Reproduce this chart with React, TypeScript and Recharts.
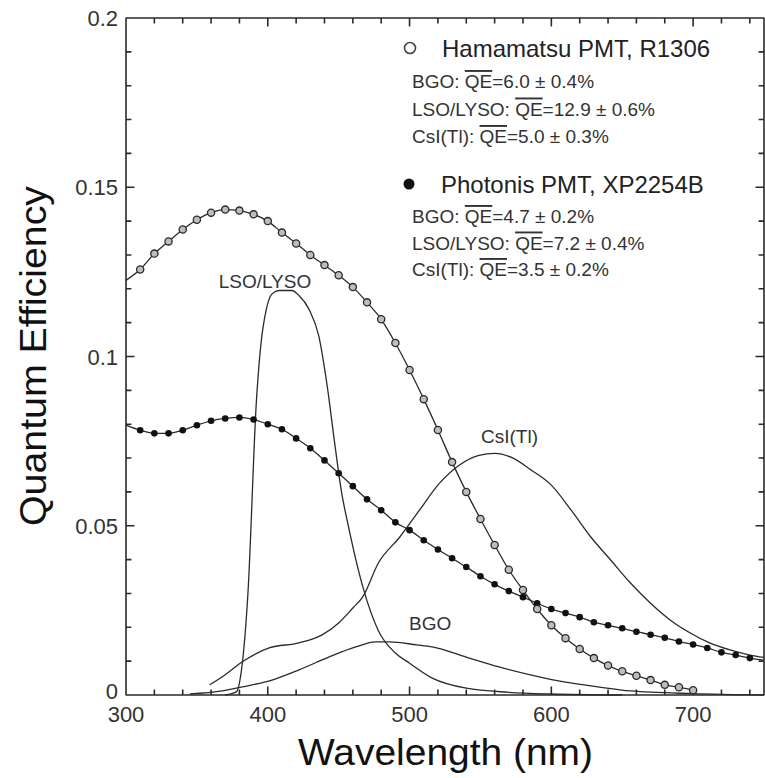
import React from 'react';
import { LineChart, Line, XAxis, YAxis, ReferenceDot } from 'recharts';

const W = 765;
const H = 778;
const INK = '#2a2a2a';
const FONT = '"Liberation Sans", Arial, Helvetica, sans-serif';

// PMT quantum efficiency curves, read every 10 nm
const hamamatsuNm = [300, 310, 320, 330, 340, 350, 360, 370, 380, 390, 400, 410, 420, 430, 440, 450, 460, 470, 480, 490, 500, 510, 520, 530, 540, 550, 560, 570, 580, 590, 600, 610, 620, 630, 640, 650, 660, 670, 680, 690, 700];
const hamamatsuQE = [0.1225, 0.1257, 0.1304, 0.134, 0.1375, 0.1404, 0.1425, 0.1434, 0.1431, 0.142, 0.14, 0.1366, 0.1334, 0.13, 0.127, 0.124, 0.1205, 0.116, 0.111, 0.104, 0.096, 0.0874, 0.0783, 0.0688, 0.06, 0.052, 0.0443, 0.037, 0.031, 0.0254, 0.0206, 0.0168, 0.0136, 0.0109, 0.0087, 0.007, 0.0057, 0.0044, 0.003, 0.0023, 0.0014];

const photonisNm = [300, 310, 320, 330, 340, 350, 360, 370, 380, 390, 400, 410, 420, 430, 440, 450, 460, 470, 480, 490, 500, 510, 520, 530, 540, 550, 560, 570, 580, 590, 600, 610, 620, 630, 640, 650, 660, 670, 680, 690, 700, 710, 720, 730, 740, 750];
const photonisQE = [0.0797, 0.0782, 0.0773, 0.0773, 0.0782, 0.0797, 0.081, 0.0817, 0.082, 0.0814, 0.08, 0.0785, 0.0758, 0.0729, 0.0693, 0.0655, 0.0617, 0.0578, 0.0546, 0.051, 0.0487, 0.0457, 0.043, 0.0404, 0.0378, 0.0351, 0.0327, 0.0307, 0.0289, 0.0271, 0.0254, 0.0242, 0.023, 0.0215, 0.0206, 0.0197, 0.0187, 0.0178, 0.0169, 0.0158, 0.0149, 0.0139, 0.0126, 0.0118, 0.0109, 0.0103];

// scintillator emission spectra (scaled to the QE axis)
const lsoNm = [370, 378, 381, 386, 392, 395, 399, 403, 408, 417, 422, 429, 436, 442, 447, 452, 457, 467, 478, 490, 500, 516, 540, 570, 600, 650];
const lsoEm = [0, 0.001, 0.006, 0.03, 0.087, 0.103, 0.114, 0.1185, 0.1195, 0.1195, 0.118, 0.114, 0.106, 0.091, 0.075, 0.06, 0.0496, 0.032, 0.019, 0.0124, 0.0094, 0.005, 0.002, 0.0008, 0.0003, 0];

const csiNm = [359, 370, 382, 401, 422, 438, 450, 460, 467, 478, 493, 507, 521, 535, 549, 560, 572, 586, 600, 614, 628, 642, 656, 670, 684, 698, 712, 726, 740, 750];
const csiEm = [0.003, 0.006, 0.0098, 0.0139, 0.0154, 0.0177, 0.0213, 0.0257, 0.029, 0.039, 0.0466, 0.0546, 0.0625, 0.0679, 0.0708, 0.0714, 0.0702, 0.0664, 0.062, 0.0546, 0.0466, 0.0398, 0.033, 0.0271, 0.0221, 0.0183, 0.0153, 0.0133, 0.0118, 0.0111];

const bgoNm = [345, 368, 382, 403, 422, 443, 462, 476, 486, 505, 516, 540, 563, 586, 610, 633, 656, 700, 750];
const bgoEm = [0.0003, 0.0012, 0.0024, 0.0044, 0.0074, 0.0112, 0.0142, 0.0157, 0.0157, 0.0148, 0.0142, 0.0112, 0.0083, 0.0059, 0.0038, 0.0024, 0.0012, 0.0004, 0];

const xTicks = [300, 320, 340, 360, 380, 400, 420, 440, 460, 480, 500, 520, 540, 560, 580, 600, 620, 640, 660, 680, 700, 720, 740];
const xMajor = [300, 400, 500, 600, 700];
const yTicks = [0, 0.01, 0.02, 0.03, 0.04, 0.05, 0.06, 0.07, 0.08, 0.09, 0.1, 0.11, 0.12, 0.13, 0.14, 0.15, 0.16, 0.17, 0.18, 0.19, 0.2];
const yMajor = [0, 0.05, 0.1, 0.15, 0.2];

// legend text
const hamamatsuName = 'Hamamatsu PMT, R1306';
const photonisName = 'Photonis PMT, XP2254B';
const crystals = ['BGO', 'LSO/LYSO', 'CsI(Tl)'];
const hamamatsuMean = ['6.0 ± 0.4%', '12.9 ± 0.6%', '5.0 ± 0.3%'];
const photonisMean = ['4.7 ± 0.2%', '7.2 ± 0.4%', '3.5 ± 0.2%'];

// curve labels, anchored in data units
const curveLabels = [
  { text: 'LSO/LYSO', nm: 398, qe: 0.1202 },
  { text: 'CsI(Tl)', nm: 570.5, qe: 0.0744 },
  { text: 'BGO', nm: 514.5, qe: 0.0192 },
];

const X0 = 300;
const X1 = 750;
const Y0 = 0;
const Y1 = 0.2;
// inward tick lengths in axis units (about 8px major, 5px minor)
const TICK_Q = [0.0025, 0.0016];
const TICK_NM = [6, 3.8];

const toPoints = (nm: number[], v: number[]) => nm.map((n, i) => ({ nm: n, qe: v[i] }));

const hamamatsuData = toPoints(hamamatsuNm, hamamatsuQE);
const photonisData = toPoints(photonisNm, photonisQE);
const lsoData = toPoints(lsoNm, lsoEm);
const csiData = toPoints(csiNm, csiEm);
const bgoData = toPoints(bgoNm, bgoEm);

// box frame with inward ticks, traced as one path: bottom, right, top, left
const xLen = (t: number) => TICK_Q[xMajor.includes(t) ? 0 : 1];
const yLen = (t: number) => TICK_NM[yMajor.includes(t) ? 0 : 1];
const frameData = [
  ...xTicks.flatMap((t) => [{ nm: t, qe: Y0 }, { nm: t, qe: Y0 + xLen(t) }, { nm: t, qe: Y0 }]),
  { nm: X1, qe: Y0 },
  ...yTicks.flatMap((t) => [{ nm: X1, qe: t }, { nm: X1 - yLen(t), qe: t }, { nm: X1, qe: t }]),
  ...[...xTicks].reverse().flatMap((t) => [{ nm: t, qe: Y1 }, { nm: t, qe: Y1 - xLen(t) }, { nm: t, qe: Y1 }]),
  ...[...yTicks].reverse().flatMap((t) => [{ nm: X0, qe: t }, { nm: X0 + yLen(t), qe: t }, { nm: X0, qe: t }]),
];

function BottomTick(props: any) {
  const v = props.payload.value;
  if (!xMajor.includes(v)) return <g />;
  return (
    <text x={props.x} y={Number(props.y) + 27} textAnchor="middle" fontSize={22} fill="#333" fontFamily={FONT}>
      {v}
    </text>
  );
}

function LeftTick(props: any) {
  const v = props.payload.value;
  if (!yMajor.includes(v)) return <g />;
  return (
    <text x={Number(props.x) - 8} y={Number(props.y) + (v === 0 ? 4 : 8)} textAnchor="end" fontSize={22} fill="#333" fontFamily={FONT}>
      {v}
    </text>
  );
}

function hollowDot(props: any) {
  const { cx, cy, payload, index } = props;
  if (payload.nm < 310) return <g key={index} />;
  return <circle key={index} cx={cx} cy={cy} r={3.6} fill="#bdbdbd" stroke={INK} strokeWidth={1.3} />;
}

function solidDot(props: any) {
  const { cx, cy, payload, index } = props;
  if (payload.nm < 310 || payload.nm > 740) return <g key={index} />;
  return <circle key={index} cx={cx} cy={cy} r={3.3} fill="#111" />;
}

function MeanLine({ x, y, crystal, mean }: { x: number; y: number; crystal: string; mean: string }) {
  return (
    <text x={x} y={y} fontSize={19} fill="#333" fontFamily={FONT}>
      <tspan>{crystal}: </tspan>
      <tspan style={{ textDecoration: 'overline' }}>QE</tspan>
      <tspan>={mean}</tspan>
    </text>
  );
}

export default function App() {
  return (
    <div style={{ position: 'absolute', left: 0, top: 0, width: W, height: H, background: '#fff', fontFamily: FONT }}>
      <LineChart width={W} height={H} margin={{ top: 18, right: 1, bottom: 0, left: 0 }}>
        <XAxis
          xAxisId="b"
          dataKey="nm"
          type="number"
          domain={[X0, X1]}
          ticks={xTicks}
          interval={0}
          height={83}
          tickSize={0}
          tickMargin={0}
          tickLine={false}
          axisLine={false}
          tick={BottomTick}
        />
        <YAxis
          yAxisId="l"
          type="number"
          domain={[Y0, Y1]}
          ticks={yTicks}
          interval={0}
          width={126}
          tickSize={0}
          tickMargin={0}
          tickLine={false}
          axisLine={false}
          tick={LeftTick}
        />

        <Line
          xAxisId="b"
          yAxisId="l"
          data={frameData}
          dataKey="qe"
          type="linear"
          stroke={INK}
          strokeWidth={1.6}
          strokeLinejoin="bevel"
          dot={false}
          activeDot={false}
          isAnimationActive={false}
        />

        <Line xAxisId="b" yAxisId="l" data={lsoData} dataKey="qe" type="monotone" stroke={INK} strokeWidth={1.3} dot={false} activeDot={false} isAnimationActive={false} />
        <Line xAxisId="b" yAxisId="l" data={csiData} dataKey="qe" type="monotone" stroke={INK} strokeWidth={1.3} dot={false} activeDot={false} isAnimationActive={false} />
        <Line xAxisId="b" yAxisId="l" data={bgoData} dataKey="qe" type="monotone" stroke={INK} strokeWidth={1.3} dot={false} activeDot={false} isAnimationActive={false} />
        <Line xAxisId="b" yAxisId="l" data={photonisData} dataKey="qe" type="monotone" stroke={INK} strokeWidth={1.3} dot={solidDot} activeDot={false} isAnimationActive={false} />
        <Line xAxisId="b" yAxisId="l" data={hamamatsuData} dataKey="qe" type="monotone" stroke={INK} strokeWidth={1.3} dot={hollowDot} activeDot={false} isAnimationActive={false} />
        {curveLabels.map((l) => (
          <ReferenceDot
            key={l.text}
            xAxisId="b"
            yAxisId="l"
            x={l.nm}
            y={l.qe}
            ifOverflow="visible"
            shape={(p: any) => (
              <text x={p.cx} y={p.cy} textAnchor="middle" fontSize={19} fill="#333" fontFamily={FONT}>
                {l.text}
              </text>
            )}
          />
        ))}
      </LineChart>
      <svg width={W} height={H} style={{ position: 'absolute', left: 0, top: 0, pointerEvents: 'none' }}>
        <text
          x={46}
          y={356}
          transform="rotate(-90 46 356)"
          textAnchor="middle"
          fontSize={37}
          textLength={340}
          lengthAdjust="spacingAndGlyphs"
          fill="#111"
          fontFamily={FONT}
        >
          Quantum Efficiency
        </text>
        <text x={445.5} y={765} textAnchor="middle" fontSize={37} textLength={295} lengthAdjust="spacingAndGlyphs" fill="#111" fontFamily={FONT}>
          Wavelength (nm)
        </text>

        <circle cx={410} cy={48} r={5.5} fill="#fff" stroke="#444" strokeWidth={1.6} />
        <text x={442} y={57} fontSize={24} fill="#222" fontFamily={FONT}>{hamamatsuName}</text>
        {crystals.map((c, i) => (
          <MeanLine key={'h' + c} x={412} y={88 + i * 27.5} crystal={c} mean={hamamatsuMean[i]} />
        ))}

        <circle cx={409} cy={184} r={5.5} fill="#111" />
        <text x={441} y={193} fontSize={24} fill="#222" fontFamily={FONT}>{photonisName}</text>
        {crystals.map((c, i) => (
          <MeanLine key={'p' + c} x={412} y={223 + i * 26.5} crystal={c} mean={photonisMean[i]} />
        ))}
      </svg>
    </div>
  );
}
